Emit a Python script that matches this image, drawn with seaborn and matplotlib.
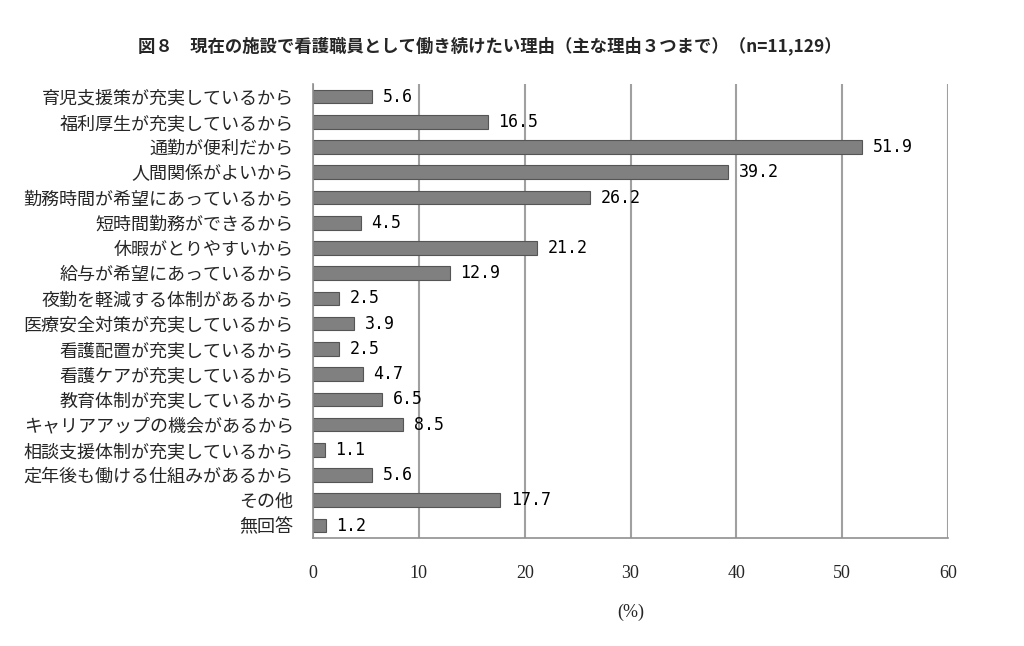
import pandas as pd
import matplotlib
matplotlib.use("Agg")
import matplotlib.pyplot as plt
import seaborn as sns
from matplotlib.ticker import MultipleLocator

sns.set_style("white")
plt.rcParams['font.family'] = ['Noto Sans CJK JP', 'DejaVu Sans']

# データ（主な理由３つまで, n=11,129）
reasons = [
    "育児支援策が充実しているから",
    "福利厚生が充実しているから",
    "通勤が便利だから",
    "人間関係がよいから",
    "勤務時間が希望にあっているから",
    "短時間勤務ができるから",
    "休暇がとりやすいから",
    "給与が希望にあっているから",
    "夜勤を軽減する体制があるから",
    "医療安全対策が充実しているから",
    "看護配置が充実しているから",
    "看護ケアが充実しているから",
    "教育体制が充実しているから",
    "キャリアアップの機会があるから",
    "相談支援体制が充実しているから",
    "定年後も働ける仕組みがあるから",
    "その他",
    "無回答",
]
percent = [5.6, 16.5, 51.9, 39.2, 26.2, 4.5, 21.2, 12.9, 2.5, 3.9,
           2.5, 4.7, 6.5, 8.5, 1.1, 5.6, 17.7, 1.2]

df = pd.DataFrame({"理由": reasons, "割合": percent})

fig = plt.figure(figsize=(10.24, 6.46), dpi=100)
ax = fig.add_axes([0.3057, 0.167, 0.6201, 0.703])

sns.barplot(data=df, x="割合", y="理由", orient="h", color="#808080",
            edgecolor="#555555", linewidth=0.8, width=0.54, saturation=1, ax=ax)

# 数値ラベル
for i, v in enumerate(percent):
    ax.text(v + 1.0, i, f"{v:.1f}", va="center", ha="left", fontsize=12,
            family=["DejaVu Sans Mono"], color="black")

ax.set_xlim(0, 60)
ax.set_ylim(len(reasons) - 0.5, -0.5)
ax.xaxis.set_major_locator(MultipleLocator(10))
ax.grid(axis="x", color="#a0a0a0", linewidth=1.5)
ax.set_axisbelow(True)

for s in ["top", "right"]:
    ax.spines[s].set_visible(False)
for s in ["left", "bottom"]:
    ax.spines[s].set_color("#909090")
    ax.spines[s].set_linewidth(1.2)

# y軸の目盛りはカテゴリの境目に
ax.set_yticks([i - 0.5 for i in range(len(reasons) + 1)], minor=True)
ax.tick_params(axis="y", which="major", length=0, pad=14, labelsize=13)
ax.tick_params(axis="y", which="minor", length=5, color="#909090", width=1)
ax.tick_params(axis="x", which="major", length=5, color="#909090", width=1,
               pad=14)
for lab in ax.get_xticklabels():
    lab.set_family(["Liberation Serif", "DejaVu Serif"])
    lab.set_fontsize(13)

ax.set_ylabel("")
ax.set_xlabel("(%)", fontsize=13, labelpad=16,
              family=["Liberation Serif", "DejaVu Serif"])

fig.text(0.478, 0.929,
         "図８　現在の施設で看護職員として働き続けたい理由（主な理由３つまで）（n=11,129）",
         ha="center", va="center", fontsize=12.5, fontweight="bold")

plt.savefig("out.png", dpi=100)
